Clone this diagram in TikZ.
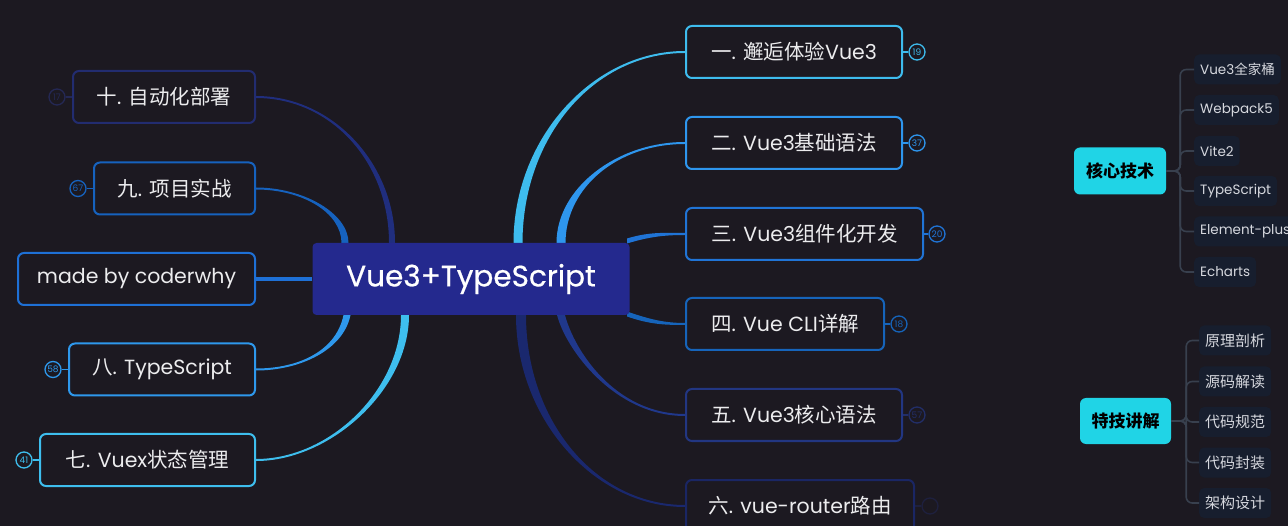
\documentclass[tikz,border=0pt]{standalone}
\usepackage{fontspec}
\setmainfont{Poppins}
\newfontfamily\cjk{Noto Sans CJK SC}
\newfontfamily\titlefont{Poppins}[FakeBold=0.6]
\usetikzlibrary{calc}
\pgfdeclarelayer{bglayer}
\pgfdeclarelayer{connlayer}
\pgfsetlayers{bglayer,connlayer,main}
\definecolor{bgc}{RGB}{28,25,33}
\definecolor{txt}{RGB}{236,236,238}
\definecolor{centerc}{RGB}{36,41,142}
\definecolor{cA}{RGB}{62,188,238}   % 一
\definecolor{cB}{RGB}{46,150,238}   % 二
\definecolor{cC}{RGB}{32,116,214}   % 三
\definecolor{cD}{RGB}{22,100,186}   % 四
\definecolor{cE}{RGB}{32,56,140}    % 五
\definecolor{cF}{RGB}{26,40,110}    % 六
\definecolor{cG}{RGB}{62,190,238}   % 七
\definecolor{cH}{RGB}{46,152,236}   % 八
\definecolor{cM}{RGB}{30,112,214}   % made by
\definecolor{cI}{RGB}{22,98,190}    % 九
\definecolor{cJ}{RGB}{32,46,126}    % 十
\definecolor{bdE}{RGB}{34,54,130}
\definecolor{bdF}{RGB}{26,38,100}
\definecolor{bdJ}{RGB}{34,44,112}
\definecolor{dimE}{RGB}{34,46,104}
\definecolor{dimF}{RGB}{30,32,62}
\definecolor{dimJ}{RGB}{36,40,84}
\definecolor{keyc}{RGB}{32,212,230}
\definecolor{leafc}{RGB}{23,30,46}
\definecolor{leaft}{RGB}{214,216,222}
\definecolor{treec}{RGB}{56,64,78}
\newcommand\taper[7]{%
  \fill[#7] ($(#1)+#5$) .. controls ($(#2)+#5$) and ($(#3)+#6$) .. ($(#4)+#6$)
    -- ($(#4)-#6$) .. controls ($(#3)-#6$) and ($(#2)-#5$) .. ($(#1)-#5$) -- cycle;}
\tikzset{
  box/.style={draw=#1, line width=2pt, rounded corners=6pt, fill=bgc, text=txt,
    minimum height=52pt, inner sep=0pt, font=\fontsize{20.5}{20.5}\selectfont},
  badge/.style={draw=#1, text=#1, circle, line width=1.3pt, minimum size=16pt,
    inner sep=0pt, font=\fontsize{9}{9}\selectfont},
  blink/.style={draw=#1, line width=1.5pt},
  keybox/.style={fill=keyc, rounded corners=6pt, text=black, inner sep=0pt,
    font=\cjk\bfseries\fontsize{17}{17}\selectfont},
  leaf/.style={fill=leafc, rounded corners=5pt, text=leaft, anchor=west,
    minimum height=30pt, inner xsep=6pt, inner ysep=0pt, font=\fontsize{13.5}{13.5}\selectfont},
  tree/.style={draw=treec, line width=1.6pt, rounded corners=6pt}
}
\begin{document}
\begin{tikzpicture}[x=1pt,y=-1pt]
\begin{pgfonlayer}{bglayer}
\fill[bgc] (0,0) rectangle (1288,526);
\end{pgfonlayer}
\useasboundingbox (0,0) rectangle (1288,526);
\clip (0,0) rectangle (1288,526);

% centre
\node[fill=centerc, rounded corners=4pt, minimum width=317pt, minimum height=72pt,
  inner sep=0pt, text=white, font=\titlefont\fontsize{29.5}{29.5}\selectfont] (c) at (471,279) {Vue3+TypeScript};

% right branches
\node[box=cA, minimum width=216pt] (r1) at (794,52) {{\cjk 一}. {\cjk 邂逅体验}Vue3};
\node[box=cB, minimum width=216pt] (r2) at (794,143) {{\cjk 二}. Vue3{\cjk 基础语法}};
\node[box=cC, minimum width=237pt] (r3) at (804.5,234) {{\cjk 三}. Vue3{\cjk 组件化开发}};
\node[box=cD, minimum width=198pt] (r4) at (785,324) {{\cjk 四}. Vue CLI{\cjk 详解}};
\node[box=bdE, minimum width=216pt] (r5) at (794,415) {{\cjk 五}. Vue3{\cjk 核心语法}};
\node[box=bdF, minimum width=228pt] (r6) at (800,506) {{\cjk 六}. vue-router{\cjk 路由}};

% left branches
\node[box=bdJ, minimum width=182pt] (l10) at (164,97) {{\cjk 十}. {\cjk 自动化部署}};
\node[box=cI, minimum width=161pt] (l9) at (174.5,188.5) {{\cjk 九}. {\cjk 项目实战}};
\node[box=cM, minimum width=237pt] (lm) at (136.5,279) {made by coderwhy};
\node[box=cH, minimum width=186pt] (l8) at (162,369.5) {{\cjk 八}. TypeScript};
\node[box=cG, minimum width=215pt] (l7) at (147.5,460) {{\cjk 七}. Vuex{\cjk 状态管理}};

% badges
\node[badge=cA] (b1) at (917,52) {19};
\node[badge=cB] (b2) at (917,143) {37};
\node[badge=cC] (b3) at (937,234) {20};
\node[badge=cD] (b4) at (899,324) {18};
\node[badge=dimE] (b5) at (917,415) {57};
\node[badge=dimF] (b6) at (930,506) {};
\node[badge=dimJ] (b10) at (57,97) {17};
\node[badge=cI] (b9) at (78,188.5) {67};
\node[badge=cH] (b8) at (53,369.5) {58};
\node[badge=cG] (b7) at (24,460) {41};

% connectors
\coordinate (s1) at (518,243);
\coordinate (s2) at (561,243);
\coordinate (s3) at (627,241);
\coordinate (s4) at (627,314);
\coordinate (s5) at (561,315);
\coordinate (s6) at (521,315);
\coordinate (s10) at (392,243);
\coordinate (s9) at (345,243);
\coordinate (s8) at (347,315);
\coordinate (s7) at (405,315);
\begin{pgfonlayer}{connlayer}
\taper{s1}{518,138}{593,52}{r1.west}{(-4.5,0)}{(0,-1)}{cA}
\taper{s2}{561,188}{617,143}{r2.west}{(-4.5,0)}{(0,-1)}{cB}
\taper{s3}{650,234}{665,234}{r3.west}{(0,-2.5)}{(0,-1)}{cC}
\taper{s4}{650,322}{665,324}{r4.west}{(0,-2.5)}{(0,-1)}{cD}
\taper{s5}{570,350}{615,415}{r5.west}{(-4,0)}{(0,1)}{cE}
\taper{s6}{521,420}{595,506}{r6.west}{(-5,0)}{(0,1)}{cF}
\taper{s10}{392,162}{331,97}{l10.east}{(3,0)}{(0,-1)}{cJ}
\taper{s9}{345,213}{303,188.5}{l9.east}{(3.5,0)}{(0,-1)}{cI}
\taper{s8}{340,350}{300,369.5}{l8.east}{(3.5,0)}{(0,1)}{cH}
\taper{s7}{405,390}{330,460}{l7.east}{(4,0)}{(0,1)}{cG}
\draw[cM, line width=4pt] (c.west) -- (lm.east);
\draw[blink=cA] (r1.east) -- (b1.west);
\draw[blink=cB] (r2.east) -- (b2.west);
\draw[blink=cC] (r3.east) -- (b3.west);
\draw[blink=cD] (r4.east) -- (b4.west);
\draw[blink=dimE] (r5.east) -- (b5.west);
\draw[blink=dimF] (r6.east) -- (b6.west);
\draw[blink=dimJ] (l10.west) -- (b10.east);
\draw[blink=cI] (l9.west) -- (b9.east);
\draw[blink=cH] (l8.west) -- (b8.east);
\draw[blink=cG] (l7.west) -- (b7.east);
\end{pgfonlayer}

% right panel: core tech
\node[keybox, minimum width=92pt, minimum height=47pt] (k1) at (1120,171) {核心技术};
\node[leaf] (k1a) at (1194,69.5) {Vue3{\cjk 全家桶}};
\node[leaf] (k1b) at (1194,110) {Webpack5};
\node[leaf] (k1c) at (1194,151) {Vite2};
\node[leaf] (k1d) at (1194,191) {TypeScript};
\node[leaf] (k1e) at (1194,231.5) {Element-plus};
\node[leaf] (k1f) at (1194,272) {Echarts};
\foreach \n in {k1a,k1b,k1c,k1d,k1e,k1f}
  \draw[tree] (k1.east) -- ++(14,0) |- (\n.west);

% right panel: special
\node[keybox, minimum width=91pt, minimum height=46pt] (k2) at (1125.5,421) {特技讲解};
\node[leaf, font=\cjk\fontsize{15}{15}\selectfont] (k2a) at (1199,340.5) {原理剖析};
\node[leaf, font=\cjk\fontsize{15}{15}\selectfont] (k2b) at (1199,381.5) {源码解读};
\node[leaf, font=\cjk\fontsize{15}{15}\selectfont] (k2c) at (1199,422) {代码规范};
\node[leaf, font=\cjk\fontsize{15}{15}\selectfont] (k2d) at (1199,462.5) {代码封装};
\node[leaf, font=\cjk\fontsize{15}{15}\selectfont] (k2e) at (1199,503) {架构设计};
\foreach \n in {k2a,k2b,k2c,k2d,k2e}
  \draw[tree] (k2.east) -- ++(15,0) |- (\n.west);
\end{tikzpicture}
\end{document}
